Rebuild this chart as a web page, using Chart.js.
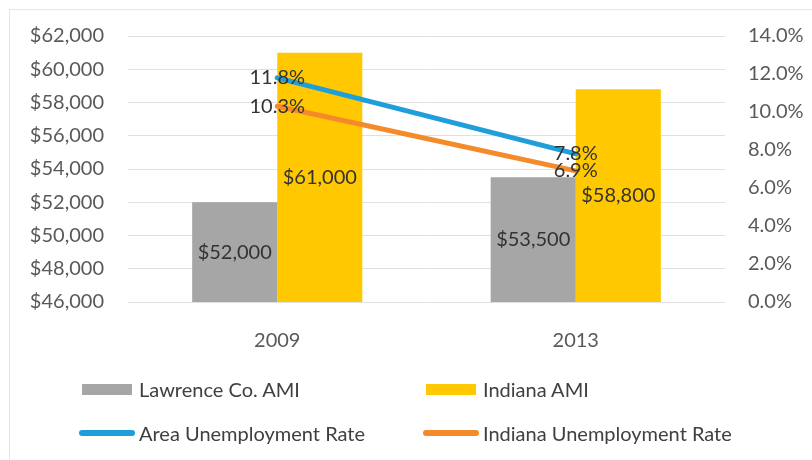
<!DOCTYPE html>
<html>
<head>
<meta charset="utf-8">
<script src="https://cdn.jsdelivr.net/npm/chart.js@4"></script>
<style>
  body { margin: 0; background: #fff; font-family: Lato, sans-serif; }
  #wrap { position: absolute; left: 0; top: 0; width: 812px; height: 460px; }
  #frame { position: absolute; left: 9px; top: 9px; width: 803px; height: 451px;
           border-left: 1px solid #e6e6e6; border-top: 1px solid #e6e6e6; }
  #legend { position: absolute; left: 79px; top: 367px; display: grid;
            grid-template-columns: 344px auto; grid-auto-rows: 44px; }
  .item { display: flex; align-items: center; font-size: 20px; color: #404040; }
  .sw { width: 56px; display: flex; justify-content: center; margin-right: 4px; }
</style>
</head>
<body>
<div id="wrap">
  <div id="frame"></div>
  <canvas id="chart" width="812" height="460"></canvas>
  <div id="legend"></div>
</div>
<script>
const years = ['2009', '2013'];
const lawrenceAmi = [52000, 53500];
const indianaAmi = [61000, 58800];
const areaRate = [11.8, 7.8];
const indianaRate = [10.3, 6.9];
const incomeTicks = { min: 46000, max: 62000, step: 2000 };
const rateTicks = { min: 0, max: 14, step: 2 };

const money = v => '$' + Number(v).toLocaleString('en-US');
const pct = v => Number(v).toFixed(1) + '%';

const valueLabels = {
  id: 'valueLabels',
  afterDraw(chart) {
    const ctx = chart.ctx;
    const yScale = chart.scales.y;
    ctx.save();
    ctx.font = '20px Lato';
    ctx.fillStyle = '#333333';
    ctx.textAlign = 'center';
    ctx.textBaseline = 'middle';
    // bar values sit in the middle of each bar
    chart.data.datasets.forEach((ds, i) => {
      if (ds.type !== 'bar') return;
      const meta = chart.getDatasetMeta(i);
      meta.data.forEach((el, j) => {
        const top = yScale.getPixelForValue(ds.data[j]);
        const bottom = yScale.getPixelForValue(incomeTicks.min);
        ctx.fillText(money(ds.data[j]), el.x, (top + bottom) / 2);
      });
    });
    // rate values sit on the line end points
    chart.data.datasets.forEach((ds, i) => {
      if (ds.type !== 'line') return;
      const meta = chart.getDatasetMeta(i);
      meta.data.forEach((el, j) => ctx.fillText(pct(ds.data[j]), el.x, el.y));
    });
    ctx.restore();
  },
};

const chart = new Chart(document.getElementById('chart'), {
  data: {
    labels: years,
    datasets: [
      { type: 'bar', label: 'Lawrence Co. AMI', data: lawrenceAmi, backgroundColor: '#a6a6a6',
        yAxisID: 'y', order: 2, categoryPercentage: 0.57, barPercentage: 1 },
      { type: 'bar', label: 'Indiana AMI', data: indianaAmi, backgroundColor: '#ffc800',
        yAxisID: 'y', order: 2, categoryPercentage: 0.57, barPercentage: 1 },
      { type: 'line', label: 'Area Unemployment Rate', data: areaRate, borderColor: '#1f9fd9',
        borderWidth: 5, pointRadius: 0, borderCapStyle: 'round', yAxisID: 'y1', order: 1 },
      { type: 'line', label: 'Indiana Unemployment Rate', data: indianaRate, borderColor: '#f58a2a',
        borderWidth: 5, pointRadius: 0, borderCapStyle: 'round', yAxisID: 'y1', order: 1 },
    ],
  },
  options: {
    responsive: false,
    animation: false,
    layout: { padding: { top: 36, left: 0, right: 0, bottom: 0 } },
    plugins: { legend: { display: false }, tooltip: { enabled: false } },
    scales: {
      x: {
        grid: { display: false },
        border: { display: false },
        ticks: { color: '#595959', font: { family: 'Lato', size: 20 }, padding: 19 },
        afterFit: s => { s.height = 158; },
      },
      y: {
        position: 'left',
        min: incomeTicks.min,
        max: incomeTicks.max,
        grid: { color: '#e0e0e0', drawTicks: false },
        border: { display: false },
        ticks: { stepSize: incomeTicks.step, color: '#595959', font: { family: 'Lato', size: 20 },
                 padding: 24, callback: v => money(v) },
        afterFit: s => { s.width = 128; },
      },
      y1: {
        position: 'right',
        min: rateTicks.min,
        max: rateTicks.max,
        grid: { drawOnChartArea: false, drawTicks: false },
        border: { display: false },
        ticks: { stepSize: rateTicks.step, color: '#595959', font: { family: 'Lato', size: 20 },
                 padding: 23, callback: v => pct(v) },
        afterFit: s => { s.width = 87; },
      },
    },
  },
  plugins: [valueLabels],
});

// legend in two columns, built from the datasets
const legendOrder = [0, 1, 2, 3];
const legendEl = document.getElementById('legend');
legendOrder.forEach(i => {
  const ds = chart.data.datasets[i];
  const item = document.createElement('div');
  item.className = 'item';
  const sw = document.createElement('span');
  sw.className = 'sw';
  const mark = document.createElement('span');
  if (ds.type === 'bar') {
    mark.style.cssText = `display:block;width:50px;height:11px;background:${ds.backgroundColor}`;
  } else {
    mark.style.cssText = `display:block;width:56px;height:6px;border-radius:3px;background:${ds.borderColor}`;
  }
  sw.appendChild(mark);
  item.appendChild(sw);
  item.appendChild(document.createTextNode(ds.label));
  legendEl.appendChild(item);
});
</script>
</body>
</html>
